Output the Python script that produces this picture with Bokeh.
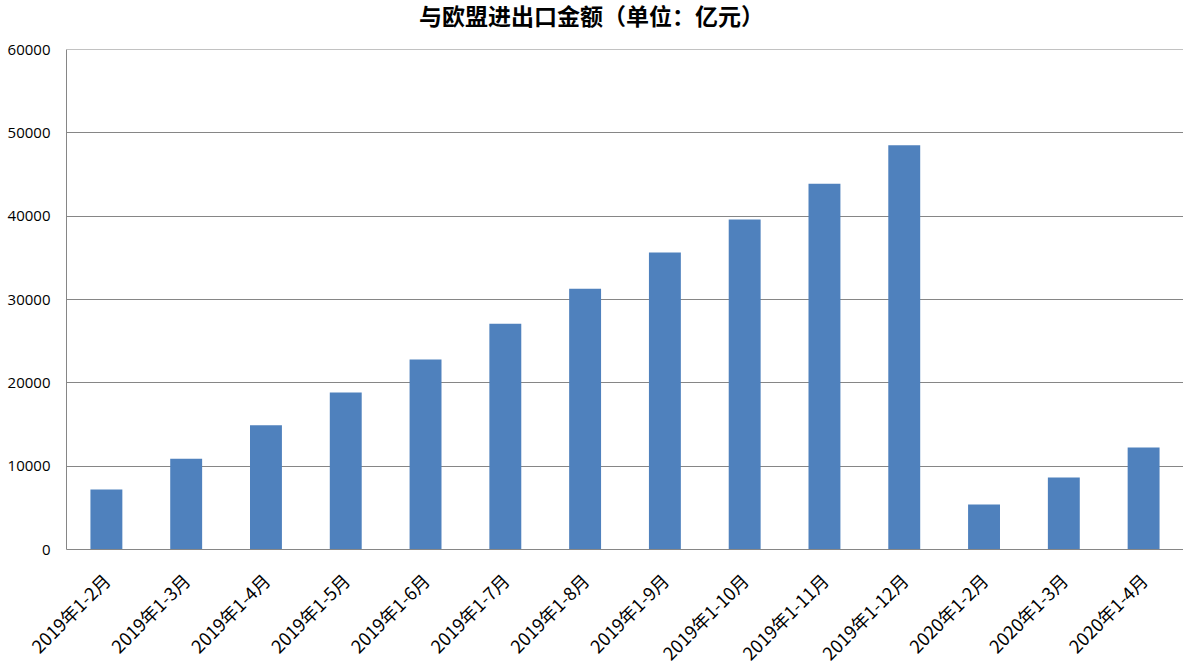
from bokeh.plotting import figure
from bokeh.models import Range1d, FactorRange, SingleIntervalTicker, NumeralTickFormatter, Span, Div
from bokeh.layouts import column
from bokeh.embed import file_html
from bokeh.resources import INLINE
import math

categories = ["2019年1-2月", "2019年1-3月", "2019年1-4月", "2019年1-5月", "2019年1-6月",
              "2019年1-7月", "2019年1-8月", "2019年1-9月", "2019年1-10月", "2019年1-11月",
              "2019年1-12月", "2020年1-2月", "2020年1-3月", "2020年1-4月"]
values = [7200, 10900, 14900, 18850, 22800, 27100, 31300, 35650, 39600, 43900,
          48500, 5400, 8650, 12250]
y_max = 60000
y_step = 10000

title_text = "与欧盟进出口金额（单位：亿元）"

LEFT = 66
FW, FH = 1117, 500
TITLE_H = 30

title = Div(text=title_text, width=LEFT + FW, height=TITLE_H, margin=(0, 0, 0, 0),
            styles={"text-align": "center", "font-family": "'Noto Sans CJK SC'",
                    "font-size": "23px", "font-weight": "bold", "line-height": "30px",
                    "color": "#000000", "width": f"{LEFT + FW}px"})

p = figure(frame_width=FW, frame_height=FH, output_backend="svg", toolbar_location=None,
           x_range=FactorRange(*categories, range_padding=0),
           y_range=Range1d(0, y_max),
           min_border_left=LEFT, min_border_right=0, min_border_top=49 - TITLE_H,
           min_border_bottom=107, margin=(0, 0, 0, 0))

p.vbar(x=categories, top=values, width=0.4, color="#4F81BD", line_color=None)

p.outline_line_color = None
p.xgrid.grid_line_color = None
p.ygrid.grid_line_color = "#868686"
p.ygrid.grid_line_width = 1
p.add_layout(Span(location=y_max, dimension="width", line_color="#868686", line_width=1))

p.yaxis.ticker = SingleIntervalTicker(interval=y_step)
p.yaxis.formatter = NumeralTickFormatter(format="0")
p.yaxis.axis_line_color = "#868686"
p.yaxis.major_tick_line_color = None
p.yaxis.minor_tick_line_color = None
p.yaxis.major_tick_out = 0
p.yaxis.major_tick_in = 0
p.yaxis.major_label_standoff = 12
p.yaxis.major_label_text_font = "Open Sans"
p.yaxis.major_label_text_font_size = "15px"
p.yaxis.major_label_text_color = "#000000"

p.xaxis.axis_line_color = "#868686"
p.xaxis.major_tick_line_color = None
p.xaxis.minor_tick_line_color = None
p.xaxis.major_tick_out = 0
p.xaxis.major_tick_in = 0
p.xaxis.major_label_orientation = math.pi / 4
p.xaxis.major_label_standoff = 27
p.xaxis.major_label_text_font = "Noto Sans CJK SC"
p.xaxis.major_label_text_font_size = "18px"
p.xaxis.major_label_text_color = "#000000"

p.background_fill_color = "white"
p.border_fill_color = "white"

layout = column(title, p, spacing=0)
open("out.html", "w").write(file_html(layout, INLINE))
